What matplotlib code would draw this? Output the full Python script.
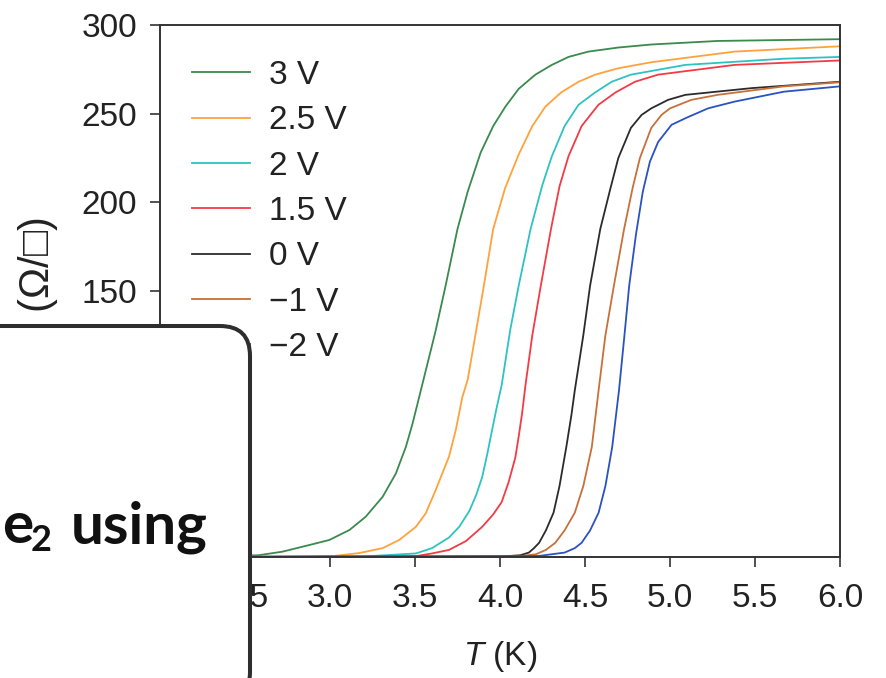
import matplotlib
matplotlib.use("Agg")
import matplotlib.pyplot as plt
from matplotlib.patches import FancyBboxPatch

plt.rcParams['font.family'] = ['Liberation Sans', 'DejaVu Sans']
plt.rcParams['mathtext.fontset'] = 'custom'
plt.rcParams['mathtext.rm'] = 'Liberation Sans'
plt.rcParams['mathtext.it'] = 'Liberation Sans:italic'

# Gate-voltage series: sheet resistance vs temperature
labels = ["3 V", "2.5 V", "2 V", "1.5 V", "0 V", "\u22121 V", "\u22122 V"]
colors = ["#3a8a4e", "#ffa23c", "#2ec2c2", "#f23b45", "#2b2b2b", "#c8703a", "#2a52c0"]

t_3v = [2.0, 2.3, 2.58, 2.72, 2.88, 2.996, 3.114, 3.21, 3.31, 3.387, 3.446, 3.485, 3.524,
        3.55, 3.62, 3.68, 3.75, 3.81, 3.886, 3.96, 4.032, 4.11, 4.208, 4.305, 4.403,
        4.52, 4.696, 4.89, 5.28, 6.0]
r_3v = [0, 0.3, 1, 3, 6.8, 9.6, 15.2, 22.7, 34, 47, 62, 75, 90,
        100, 127, 153, 185, 206, 228, 243, 254, 264, 272, 277.5, 282,
        285, 287.3, 289, 291, 292]

t_25v = [2.0, 2.8, 3.016, 3.17, 3.31, 3.407, 3.505, 3.563, 3.622, 3.66, 3.70, 3.74, 3.778,
         3.81, 3.855, 3.905, 3.96, 4.03, 4.11, 4.19, 4.267, 4.36, 4.462, 4.56, 4.696,
         4.89, 5.38, 6.0]
r_25v = [0, 0.2, 0.5, 2.2, 5, 9.6, 17, 24.6, 37.8, 47, 56.6, 71.6, 90,
         100, 125, 153, 185, 208, 227, 243, 254, 262, 268, 272, 275.6,
         279, 285, 288]

t_2v = [2.0, 3.2, 3.505, 3.60, 3.70, 3.76, 3.82, 3.86, 3.895, 3.925, 3.95, 3.98, 4.01,
        4.06, 4.11, 4.18, 4.25, 4.305, 4.38, 4.462, 4.56, 4.657, 4.77, 5.09, 5.67, 6.0]
r_2v = [0, 0.3, 2, 5, 11, 17, 26, 35, 45, 58, 70, 84, 97,
        128, 153, 185, 210, 226, 243, 255, 262, 268, 272, 277.5, 281, 282]

t_15v = [2.0, 3.4, 3.505, 3.60, 3.70, 3.80, 3.895, 3.96, 4.01, 4.05, 4.09, 4.11, 4.13,
         4.15, 4.19, 4.24, 4.30, 4.35, 4.403, 4.48, 4.579, 4.68, 4.794, 4.93, 5.38, 6.0]
r_15v = [0, 0.3, 0.5, 2, 4, 9, 17, 24, 31, 42, 56, 68, 81,
         97, 125, 153, 185, 209, 226, 243, 255, 262, 268, 272, 277.5, 280]

t_0v = [2.0, 4.0, 4.12, 4.17, 4.20, 4.23, 4.27, 4.315, 4.35, 4.39, 4.42, 4.44, 4.49,
        4.53, 4.59, 4.65, 4.696, 4.77, 4.833, 4.89, 4.989, 5.09, 5.48, 6.0]
r_0v = [0, 0.2, 1, 2.5, 5, 8, 15, 25, 40, 62, 80, 94, 125,
        153, 185, 208, 225, 242, 249.3, 253, 257.8, 260.6, 264.4, 268]

t_m1v = [2.0, 4.1, 4.21, 4.27, 4.325, 4.38, 4.44, 4.49, 4.54, 4.56, 4.58, 4.62, 4.67,
         4.73, 4.78, 4.823, 4.89, 4.95, 5.0, 5.126, 5.28, 5.67, 6.0]
r_m1v = [0, 0.3, 1.5, 4, 8, 15, 25, 40, 62, 78, 94, 125, 153,
         185, 208, 225, 242, 249.3, 253, 257.8, 260.6, 265.4, 267.7]

t_m2v = [2.0, 4.23, 4.38, 4.44, 4.48, 4.53, 4.58, 4.62, 4.66, 4.68, 4.70, 4.73, 4.76,
         4.80, 4.84, 4.882, 4.93, 5.009, 5.09, 5.224, 5.38, 5.67, 6.0]
r_m2v = [0, 0.6, 2.5, 5, 8, 15, 25, 40, 62, 78, 94, 123, 153,
         182, 206, 223, 234, 243.7, 247.4, 253, 256.8, 262.4, 265.4]

x_ticks = [2.0, 2.5, 3.0, 3.5, 4.0, 4.5, 5.0, 5.5, 6.0]
y_ticks = [0, 50, 100, 150, 200, 250, 300]

series = [(t_3v, r_3v), (t_25v, r_25v), (t_2v, r_2v), (t_15v, r_15v),
          (t_0v, r_0v), (t_m1v, r_m1v), (t_m2v, r_m2v)]

W, H = 886, 678
fig = plt.figure(figsize=(W / 100, H / 100), dpi=100)
ax = fig.add_axes([160 / W, 1 - 557 / H, 680 / W, 532 / H])

for (t, r), lab, col in zip(series, labels, colors):
    ax.plot(t, r, color=col, lw=1.3, label=lab, solid_joinstyle="round")

ax.set_xlim(2.0, 6.0)
ax.set_ylim(0, 300)
ax.set_xticks(x_ticks)
ax.set_xticklabels([f"{v:.1f}" for v in x_ticks])
ax.set_yticks(y_ticks)
for s in ax.spines.values():
    s.set_color("#333333")
    s.set_linewidth(1.4)
ax.tick_params(axis="both", direction="out", length=7.5, width=1.2, color="#333333",
               labelsize=24, labelcolor="#222222")
ax.tick_params(axis="x", pad=11)
ax.tick_params(axis="y", pad=9)

ax.set_xlabel("$T$ (K)", fontsize=24, color="#222222", labelpad=18)
ax.set_ylabel("$R_\\mathrm{s}$   (\u03a9/\u25a1)", fontsize=30, color="#222222")
ax.yaxis.label.set_ha("right")
ax.yaxis.set_label_coords((60 - 160) / 680, (557 - 218) / 532)

leg = ax.legend(loc="upper left", bbox_to_anchor=(192 / W, 1 - 60 / H),
                bbox_transform=fig.transFigure, frameon=False, fontsize=24,
                handlelength=1.75, handletextpad=0.55, labelspacing=0.43,
                borderpad=0, borderaxespad=0)
for txt in leg.get_texts():
    txt.set_color("#222222")

# Overlay panel in pixel units for the caption box
ov = fig.add_axes([0, 0, 1, 1], zorder=10)
ov.set_xlim(0, W)
ov.set_ylim(H, 0)
ov.axis("off")
ov.patch.set_alpha(0)
box = FancyBboxPatch((-40, 326), 290, 376, boxstyle="round,pad=0,rounding_size=30",
                     lw=2.9, ec="#2e2e2e", fc="white")
ov.add_patch(box)
cap = dict(family=["Lato", "DejaVu Sans"], weight="bold", color="#111111", va="baseline")
ov.text(2, 543, "e", ha="left", fontsize=42, **cap)
ov.text(31, 551, "2", ha="left", fontsize=26, **cap)
ov.text(208, 543, "using", ha="right", fontsize=42, **cap)

fig.savefig("out.png", dpi=100)
